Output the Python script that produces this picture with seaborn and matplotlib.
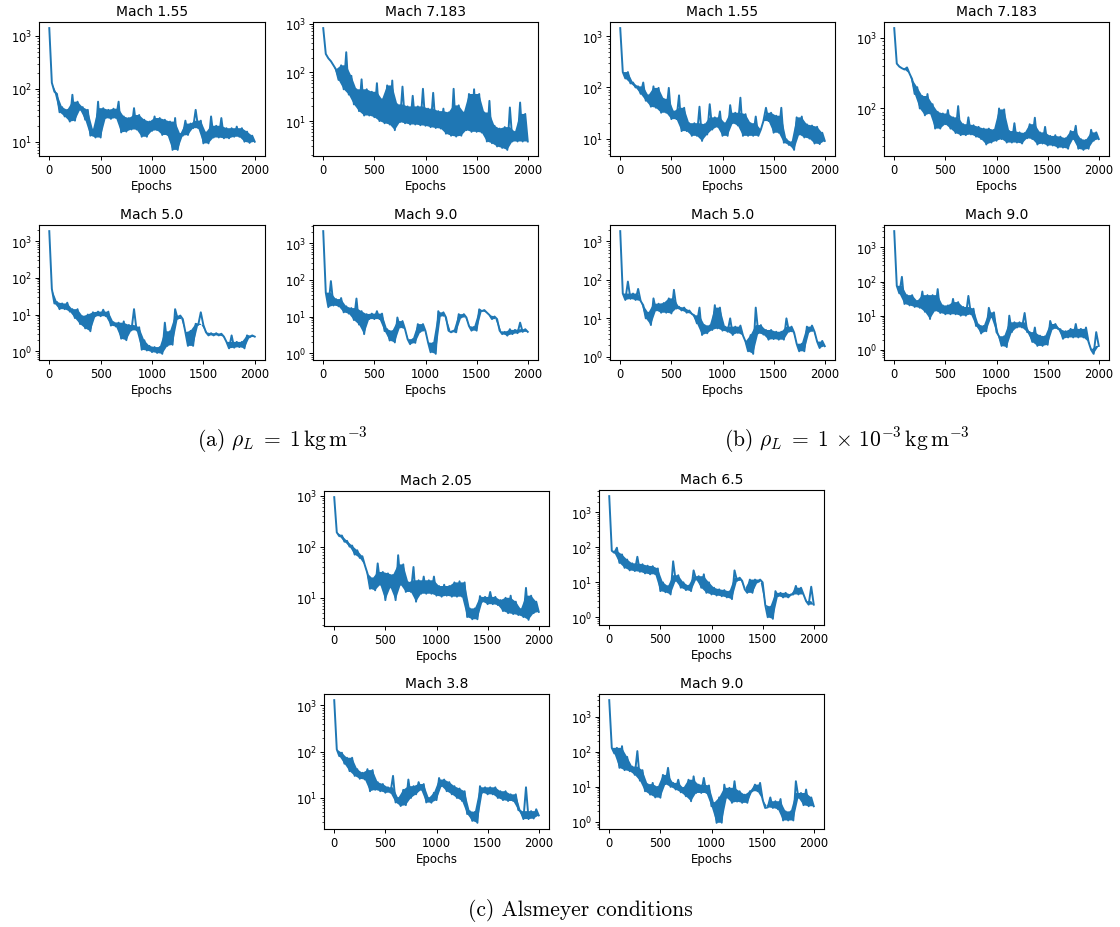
import numpy as np
import matplotlib
matplotlib.use("Agg")
import matplotlib.pyplot as plt
import seaborn as sns

plt.rcParams["mathtext.fontset"] = "cm"

EPOCHS = np.arange(0, 2001, 25)

# ---- (a) rho_L = 1 kg m^-3 ----
TITLE_A1 = "Mach 1.55"
LOSS_A1 = [1400, 130, 88, 80, 36, 45, 30, 40,
           24, 77, 25, 57, 40, 45, 26, 40,
           13, 17, 12, 57, 12, 43, 28, 40,
           27, 42, 28, 57, 15, 30, 15.5, 28,
           17, 43, 17, 32, 12.4, 26, 12.4, 24,
           16, 30, 16.5, 28, 13.4, 26, 13.4, 24,
           7, 28, 7, 14, 13, 25, 13.4, 22,
           18, 40, 18, 25, 9.3, 15, 9.3, 30,
           12, 20, 12, 28, 11.6, 18, 11.6, 18,
           12.4, 19.3, 12.4, 18, 10, 15.5, 9.5, 13,
           10]
TITLE_A2 = "Mach 7.183"
LOSS_A2 = [815, 240, 195, 170, 140, 115, 70, 140,
           45, 260, 35, 85, 22, 45, 16, 72,
           13, 45, 13, 40, 12, 60, 10, 28,
           9, 54, 8.5, 68, 6.5, 22, 9.5, 51,
           9, 20, 8.5, 33, 8.5, 20, 8.2, 46,
           8, 18, 7.5, 38, 7.2, 16, 7, 18,
           5.5, 15, 5, 46, 4.8, 21, 5, 15,
           6.5, 36, 6, 45, 6, 36, 5.8, 15,
           3.8, 26, 3.5, 8, 3.0, 7, 2.8, 7.5,
           2.55, 19, 3.8, 6, 3.8, 24, 3.8, 14,
           3.8]
TITLE_A3 = "Mach 5.0"
LOSS_A3 = [1860, 50, 20, 22, 14, 20, 14, 21,
           12, 14, 8, 14, 5.5, 9, 4.2, 10,
           3.5, 11.5, 9, 12, 9, 13.5, 9, 12,
           5.0, 6.2, 4.7, 6.0, 2.2, 6.5, 2.0, 5.2,
           3.7, 14, 3.7, 4.5, 1.1, 2.0, 1.05, 1.4,
           0.95, 1.3, 0.9, 1.3, 0.85, 6, 1.4, 3.5,
           1.5, 14, 7.6, 9.4, 7.5, 3.3, 1.4, 3.6,
           1.4, 5.6, 5.2, 11.5, 5.2, 3.3, 2.7, 3.1,
           2.7, 3.1, 2.7, 3.0, 2.5, 1.8, 1.2, 2.7,
           1.25, 1.8, 1.3, 1.8, 1.2, 2.7, 2.4, 2.7,
           2.5]
TITLE_A4 = "Mach 9.0"
LOSS_A4 = [2170, 45, 18, 93, 20, 30, 19, 32,
           13, 19, 12, 17, 8, 31, 6, 14,
           3.3, 11.6, 8.5, 12, 8.5, 14, 8.5, 12,
           4, 4.5, 2.2, 4.0, 1.95, 9.4, 5.0, 7.5,
           4.5, 2.4, 1.75, 2.4, 1.9, 6.2, 3.8, 6.2,
           4.0, 1.95, 1.05, 1.9, 0.95, 14, 10.4, 13,
           9.5, 4.1, 3.7, 4.1, 3.7, 11.6, 9.4, 11.6,
           9.4, 5.5, 4.1, 5.2, 4.1, 15.7, 14, 15,
           12.8, 11, 8.5, 10, 8.5, 4.1, 3.3, 3.8,
           3.0, 4.5, 3.3, 4.3, 3.5, 6.8, 3.8, 4.5,
           3.8]

# ---- (b) rho_L = 1e-3 kg m^-3 ----
TITLE_B1 = "Mach 1.55"
LOSS_B1 = [1450, 200, 150, 200, 120, 125, 100, 105,
           75, 125, 55, 70, 42, 105, 40, 98,
           32, 60, 32, 98, 24, 34, 24, 70,
           14, 40, 14, 20, 11.3, 20, 11.3, 42,
           9, 19, 12, 47, 15, 26, 17, 34,
           11.3, 20, 11.3, 45, 20, 32, 18, 63,
           11.3, 30, 11.3, 20, 11.3, 27, 11.3, 15,
           22, 40, 22, 32, 13, 28, 13, 40,
           8.3, 9.7, 7.5, 8.5, 6, 26, 12, 27,
           10.5, 19, 10, 18, 8, 17, 7.8, 13,
           9]
TITLE_B2 = "Mach 7.183"
LOSS_B2 = [1365, 430, 390, 370, 355, 380, 310, 260,
           160, 200, 100, 150, 80, 160, 85, 115,
           52, 90, 52, 85, 60, 95, 52, 75,
           45, 108, 42, 60, 42, 75, 43, 58,
           40, 55, 37, 52, 31, 52, 33, 50,
           35, 100, 37, 97, 33, 48, 33, 62,
           33, 46, 32, 45, 38, 60, 37, 74,
           31, 46, 32, 55, 30, 41, 30, 42,
           28, 40, 28, 38, 27, 48, 37, 57,
           27, 37, 26, 36, 27, 50, 35, 46,
           37]
TITLE_B3 = "Mach 5.0"
LOSS_B3 = [1830, 44, 30, 90, 32, 44, 30, 58,
           28, 22, 10, 14, 6.7, 33, 16, 24,
           14, 25, 14, 33, 13.4, 55, 18, 20,
           16, 19, 14, 16, 13, 12, 7.4, 19,
           3.7, 6.7, 4.1, 6.5, 5, 22, 5.5, 19,
           4.8, 6.1, 4.5, 10, 3.7, 6.1, 4.2, 6.5,
           3.6, 2.5, 1.4, 3.7, 1.2, 19, 4.1, 6.7,
           3.8, 5, 2.8, 5, 2.9, 4.5, 2.8, 4.5,
           2.8, 10, 4.5, 6.1, 4.3, 2.2, 1.4, 2.2,
           1.4, 6.1, 4.5, 6.5, 4.5, 2.5, 1.7, 2.6,
           1.9]
TITLE_B4 = "Mach 9.0"
LOSS_B4 = [3000, 75, 45, 137, 22, 40, 20, 40,
           18, 27, 17, 51, 13, 40, 8, 40,
           14, 60, 12, 20, 11, 20, 11, 31,
           11, 25, 10, 18, 10, 38, 11, 16,
           5, 5.5, 3, 5, 3.5, 17, 9, 12.5,
           3.3, 2.5, 1.3, 2.5, 1.2, 10, 3.3, 6.4,
           4.5, 6.4, 4.5, 12, 3.3, 3.3, 1.7, 4.5,
           1.3, 2.6, 1.3, 2.5, 1.4, 7, 4.1, 5.7,
           4.1, 4.0, 2.1, 3.5, 2.3, 4.1, 2.3, 5.7,
           2.3, 4.1, 2.3, 4.5, 1.7, 1.0, 0.76, 3.3,
           1.3]

# ---- (c) Alsmeyer conditions ----
TITLE_C1 = "Mach 2.05"
LOSS_C1 = [930, 190, 160, 165, 125, 130, 100, 105,
           70, 85, 60, 65, 43, 30, 15, 24,
           14, 47, 18, 32, 9, 30, 16, 28,
           9, 68, 18, 45, 13, 20, 13, 40,
           8.4, 22, 12, 26, 12, 22, 12, 26,
           11, 17, 10.5, 18, 11, 17, 10.5, 20,
           10.5, 21, 10.5, 20, 4.2, 6.2, 3.8, 6.2,
           3.8, 10.8, 8.4, 10.4, 7.5, 13, 7.5, 10.4,
           7.2, 9, 5.5, 10, 5, 11, 4.8, 8.4,
           4.6, 6, 4.2, 15.6, 3.7, 11, 5, 8.4,
           5.3]
TITLE_C2 = "Mach 6.5"
LOSS_C2 = [2940, 80, 70, 98, 36, 63, 26, 45,
           22, 35, 21, 54, 20, 33, 18, 30,
           17, 29, 17, 25, 5.6, 10, 5.2, 7.8,
           4.5, 40, 11, 16, 7, 10, 6, 8,
           5.6, 22, 12, 15, 7, 17, 5, 10,
           4.5, 7, 4.2, 6.3, 4, 6, 3.7, 5.5,
           3.3, 22, 11, 13.6, 11, 6.3, 5, 12,
           5, 12, 10, 12, 10, 2.3, 1.0, 2.0,
           0.9, 5.6, 4, 5, 3.7, 5, 3.7, 4.5,
           4.5, 7.9, 4.5, 7, 4.5, 2.9, 2.3, 7.5,
           2.3]
TITLE_C3 = "Mach 3.8"
LOSS_C3 = [1300, 112, 80, 95, 55, 74, 38, 74,
           30, 42, 26, 35, 25, 42, 14, 40,
           15, 22, 14, 20, 13, 17, 13, 30,
           8, 10, 6.7, 15, 7, 25, 10, 18,
           12, 22, 15, 20, 8, 10, 7.9, 13,
           9, 27, 18, 25, 14, 22, 12, 18,
           10, 16, 8.6, 14, 4.5, 5.2, 3.2, 5,
           2.9, 18, 13, 17, 12, 17, 12, 17,
           10, 14, 9, 14, 8.6, 12, 8.6, 12,
           5.5, 5.2, 3.5, 17, 3.5, 5.2, 3.6, 5.7,
           4.2]
TITLE_C4 = "Mach 9.0"
LOSS_C4 = [2990, 130, 90, 130, 35, 145, 30, 72,
           28, 38, 22, 105, 15, 30, 7.5, 12,
           6, 13, 5, 10, 4.9, 22, 12, 35,
           10, 13, 8.4, 16, 7, 9.4, 5.4, 16,
           3.9, 20, 6.7, 11.6, 6.7, 18, 6.7, 11,
           2.8, 3.5, 0.94, 5, 0.95, 11.6, 4.9, 9.4,
           3.5, 14.5, 3.8, 7.5, 3.5, 6, 3.5, 7.5,
           7.5, 11.6, 7.5, 13, 4.3, 2.5, 2.6, 5,
           2.5, 3.9, 2.3, 4.5, 1.1, 2.0, 1.1, 2,
           1.1, 14.5, 4.9, 6.7, 3, 8.4, 2.8, 5,
           2.8]

CAPTIONS = [r"(a) $\rho_L \;=\; 1\,\mathrm{kg}\,\mathrm{m}^{-3}$",
            r"(b) $\rho_L \;=\; 1 \,\times\, 10^{-3}\,\mathrm{kg}\,\mathrm{m}^{-3}$",
            "(c) Alsmeyer conditions"]

COLOR = "#1f77b4"
W, H = 1120, 928
fig = plt.figure(figsize=(W / 100, H / 100), dpi=100)

# panel boxes in pixels: (left, top, width, height)
panels = [
    ((39, 23, 226, 134), TITLE_A1, LOSS_A1),
    ((313, 23, 225, 134), TITLE_A2, LOSS_A2),
    ((610, 23, 225, 134), TITLE_B1, LOSS_B1),
    ((884, 23, 225, 134), TITLE_B2, LOSS_B2),
    ((39, 226, 226, 135), TITLE_A3, LOSS_A3),
    ((313, 226, 225, 135), TITLE_A4, LOSS_A4),
    ((610, 226, 225, 135), TITLE_B3, LOSS_B3),
    ((884, 226, 225, 135), TITLE_B4, LOSS_B4),
    ((324, 492, 225, 135), TITLE_C1, LOSS_C1),
    ((599, 491, 225, 135), TITLE_C2, LOSS_C2),
    ((324, 695, 225, 135), TITLE_C3, LOSS_C3),
    ((599, 695, 225, 135), TITLE_C4, LOSS_C4),
]


def band_polygon(y):
    """Dense-oscillation band: between the troughs (even samples) and the
    crests (odd samples), isolated spikes left to the line itself."""
    n = len(y)
    hi_idx = np.arange(1, n, 2)
    lo_idx = np.arange(2, n, 2)
    crest = np.array([min(y[k], max(y[max(k - 2, 0)], y[min(k + 2, n - 1)]))
                      for k in hi_idx])
    xs = np.r_[EPOCHS[hi_idx], EPOCHS[lo_idx][::-1]]
    ys = np.r_[crest, y[lo_idx][::-1]]
    return xs, ys


for (l, t, w, h), title, loss in panels:
    ax = fig.add_axes([l / W, 1 - (t + h) / H, w / W, h / H])
    ax.set_yscale("log")
    y = np.asarray(loss, dtype=float)
    px, py = band_polygon(y)
    ax.fill(px, py, color=COLOR, linewidth=0, zorder=1)
    sns.lineplot(x=EPOCHS, y=y, ax=ax, color=COLOR, linewidth=1.4,
                 estimator=None, zorder=2)
    ax.set_title(title, fontsize=10, pad=5)
    ax.set_xlabel("Epochs", fontsize=8.5, labelpad=2)
    ax.set_ylabel("")
    ax.set_xticks([0, 500, 1000, 1500, 2000])
    ax.tick_params(axis="both", which="major", labelsize=8.3, length=3, width=0.7, pad=2)
    ax.tick_params(axis="y", which="minor", length=1.8, width=0.5)
    for s in ax.spines.values():
        s.set_linewidth(0.8)

fig.text(282 / W, 1 - 440 / H, CAPTIONS[0], ha="center", va="center",
         fontsize=15.5, family="cmr10")
fig.text(847 / W, 1 - 440 / H, CAPTIONS[1], ha="center", va="center",
         fontsize=15.5, family="cmr10")
fig.text(580 / W, 1 - 911 / H, CAPTIONS[2], ha="center", va="center",
         fontsize=15.5, family="cmr10")

fig.savefig("out.png", dpi=100, facecolor="white")
